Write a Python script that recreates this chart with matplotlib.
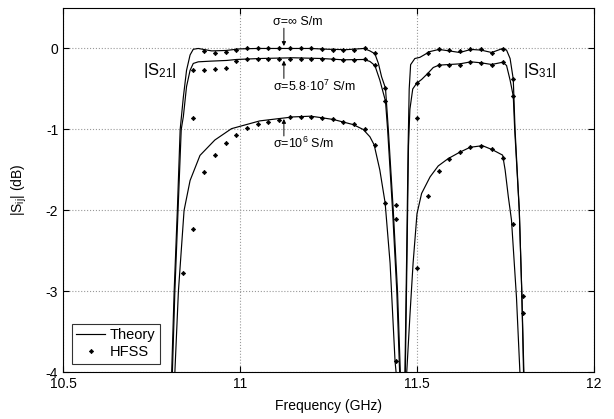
import matplotlib
matplotlib.use("Agg")
import matplotlib.pyplot as plt

plt.rcParams['font.family'] = ['Liberation Sans', 'DejaVu Sans']
plt.rcParams['mathtext.fontset'] = 'custom'
plt.rcParams['mathtext.rm'] = 'Liberation Sans'
plt.rcParams['mathtext.it'] = 'Liberation Sans'
plt.rcParams['axes.unicode_minus'] = False

# Theory curves, frequency in GHz, level in dB
s21_inf_f = [10.807, 10.814, 10.823, 10.831, 10.840, 10.849, 10.859, 10.868, 10.882, 10.92, 10.96, 11.00,
             11.05, 11.10, 11.15, 11.20, 11.25, 11.30, 11.35, 11.367, 11.381, 11.391, 11.400, 11.411,
             11.419, 11.433, 11.445, 11.453]
s21_inf_db = [-4, -3, -2, -1, -0.6, -0.27, -0.08, -0.01, 0.0, -0.03, -0.025, -0.005,
              0.0, 0.0, 0.0, 0.0, -0.01, -0.015, 0.0, -0.03, -0.065, -0.185, -0.35, -0.49,
              -1.0, -2.0, -3.0, -4.0]

s21_cu_f = [10.809, 10.816, 10.825, 10.834, 10.840, 10.849, 10.859, 10.868, 10.882, 10.915, 10.962, 10.99,
            11.056, 11.15, 11.231, 11.292, 11.35, 11.367, 11.381, 11.395, 11.411, 11.417, 11.431, 11.443, 11.451]
s21_cu_db = [-4, -3, -2, -1.0, -0.84, -0.47, -0.27, -0.185, -0.165, -0.157, -0.148, -0.136,
             -0.124, -0.115, -0.124, -0.14, -0.136, -0.16, -0.21, -0.39, -0.65, -1.0, -2.0, -3.0, -4.0]

s21_lo_f = [10.816, 10.826, 10.842, 10.859, 10.887, 10.929, 10.976, 11.056, 11.15, 11.20, 11.226, 11.264,
            11.32, 11.348, 11.367, 11.379, 11.395, 11.41, 11.424, 11.438, 11.441]
s21_lo_db = [-4, -3, -2, -1.63, -1.32, -1.13, -0.99, -0.894, -0.845, -0.836, -0.852, -0.877,
             -0.94, -1.0, -1.09, -1.19, -1.50, -1.906, -2.65, -3.86, -4.0]

s31_inf_f = [11.466, 11.471, 11.475, 11.478, 11.482, 11.494, 11.508, 11.52, 11.535, 11.562, 11.591, 11.621,
             11.652, 11.681, 11.711, 11.742, 11.753, 11.763, 11.772, 11.777, 11.789, 11.796, 11.802]
s31_inf_db = [-4, -2.5, -1.2, -0.5, -0.2, -0.124, -0.11, -0.08, -0.04, -0.012, -0.03, -0.05,
              -0.012, -0.02, -0.05, 0.0, -0.02, -0.124, -0.38, -1.0, -2.0, -3.0, -4.0]

s31_cu_f = [11.467, 11.472, 11.476, 11.480, 11.488, 11.499, 11.513, 11.530, 11.546, 11.562, 11.591, 11.621,
            11.652, 11.681, 11.711, 11.742, 11.753, 11.763, 11.772, 11.776, 11.789, 11.796, 11.801]
s31_cu_db = [-4, -2.5, -1.2, -0.75, -0.5, -0.43, -0.383, -0.31, -0.235, -0.206, -0.198, -0.19,
             -0.165, -0.177, -0.198, -0.17, -0.21, -0.39, -0.589, -1.0, -2.0, -3.0, -4.0]

s31_lo_f = [11.471, 11.480, 11.489, 11.500, 11.513, 11.537, 11.560, 11.588, 11.619, 11.650, 11.685, 11.713,
            11.742, 11.749, 11.758, 11.767, 11.781, 11.791]
s31_lo_db = [-4, -3.3, -2.65, -2.04, -1.79, -1.585, -1.45, -1.36, -1.285, -1.22, -1.20, -1.25,
             -1.317, -1.5, -1.83, -2.12, -3.07, -4.02]

# HFSS points
h21_f = [10.868, 10.899, 10.929, 10.960, 10.990, 11.020, 11.050, 11.080, 11.111, 11.141, 11.171, 11.201,
         11.231, 11.262, 11.292, 11.322, 11.352, 11.381, 11.411, 11.441]
h21_inf = [-0.27, -0.03, -0.06, -0.04, -0.02, 0.0, 0.0, 0.0, 0.0, 0.0, 0.0, 0.0,
           -0.01, -0.015, -0.02, -0.02, 0.0, -0.062, -0.49, -1.935]
h21_cu = [-0.864, -0.26, -0.255, -0.24, -0.157, -0.136, -0.136, -0.13, -0.124, -0.124, -0.124, -0.124,
          -0.124, -0.136, -0.14, -0.14, -0.136, -0.198, -0.65, -2.10]
h21_lo_f = [10.838] + h21_f
h21_lo = [-2.77, -2.23, -1.52, -1.32, -1.165, -1.07, -0.98, -0.93, -0.905, -0.877, -0.852, -0.852, -0.846,
          -0.856, -0.872, -0.905, -0.937, -0.989, -1.197, -1.906, -3.86]

h31_f = [11.500, 11.530, 11.561, 11.591, 11.621, 11.651, 11.681, 11.712, 11.742, 11.772, 11.800]
h31_inf = [-0.432, -0.054, -0.012, -0.025, -0.037, -0.012, -0.012, -0.05, -0.01, -0.38, -3.05]
h31_cu = [-0.864, -0.31, -0.206, -0.198, -0.198, -0.165, -0.177, -0.198, -0.17, -0.585, -3.26]
h31_lo_f = h31_f[:-1]
h31_lo = [-2.71, -1.82, -1.515, -1.36, -1.28, -1.22, -1.206, -1.245, -1.35, -2.17]

fig = plt.figure(figsize=(6.14, 4.19), dpi=100)
ax = fig.add_axes([0.1026, 0.111, 0.8648, 0.870])

lw = 0.85
ax.plot(s21_inf_f, s21_inf_db, color='k', lw=lw, label='Theory')
for f, d in [(s21_cu_f, s21_cu_db), (s21_lo_f, s21_lo_db),
             (s31_inf_f, s31_inf_db), (s31_cu_f, s31_cu_db), (s31_lo_f, s31_lo_db)]:
    ax.plot(f, d, color='k', lw=lw)

mk = dict(ls='none', marker='D', ms=2.2, color='k', mec='k', mew=0.5)
ax.plot(h21_f, h21_inf, label='HFSS', **mk)
for f, d in [(h21_f, h21_cu), (h21_lo_f, h21_lo), (h31_f, h31_inf), (h31_f, h31_cu), (h31_lo_f, h31_lo)]:
    ax.plot(f, d, **mk)

ax.set_xlim(10.5, 12)
ax.set_ylim(-4, 0.5)
ax.set_xticks([10.5, 11, 11.5, 12])
ax.set_xticklabels(['10.5', '11', '11.5', '12'])
ax.set_yticks([-4, -3, -2, -1, 0])
ax.tick_params(direction='in', top=True, right=True, length=4, labelsize=10)
ax.tick_params(axis='x', pad=3)
ax.grid(True, linestyle=':', color='0.6', lw=0.8)
for s in ax.spines.values():
    s.set_linewidth(0.8)

ax.set_xlabel('Frequency (GHz)', fontsize=10, labelpad=6)
ax.set_ylabel('|S$_{ij}$| (dB)', fontsize=10, labelpad=12)

# curve labels
ax.text(10.726, -0.27, r'$|\mathrm{S}_{21}|$', fontsize=12, va='center', ha='left')
ax.text(11.800, -0.27, r'$|\mathrm{S}_{31}|$', fontsize=12, va='center', ha='left')

arr = dict(arrowstyle='-|>', color='k', lw=0.7, mutation_scale=6, shrinkA=0, shrinkB=0)
ax.text(11.093, 0.33, 'σ=∞ S/m', fontsize=9, ha='left', va='center')
ax.annotate('', xy=(11.124, 0.03), xytext=(11.124, 0.25), arrowprops=arr)
ax.text(11.093, -0.47, 'σ=5.8·10$^7$ S/m', fontsize=9, ha='left', va='center')
ax.annotate('', xy=(11.124, -0.15), xytext=(11.124, -0.37), arrowprops=arr)
ax.text(11.093, -1.17, 'σ=10$^6$ S/m', fontsize=9, ha='left', va='center')
ax.annotate('', xy=(11.124, -0.87), xytext=(11.124, -1.08), arrowprops=arr)

leg = ax.legend(loc='lower left', fontsize=10.5, frameon=True, fancybox=False,
                edgecolor='k', handlelength=2.0, borderaxespad=0.6, borderpad=0.3,
                labelspacing=0.2, handletextpad=0.3)
leg.get_frame().set_linewidth(0.8)

fig.savefig('out.png', dpi=100)
